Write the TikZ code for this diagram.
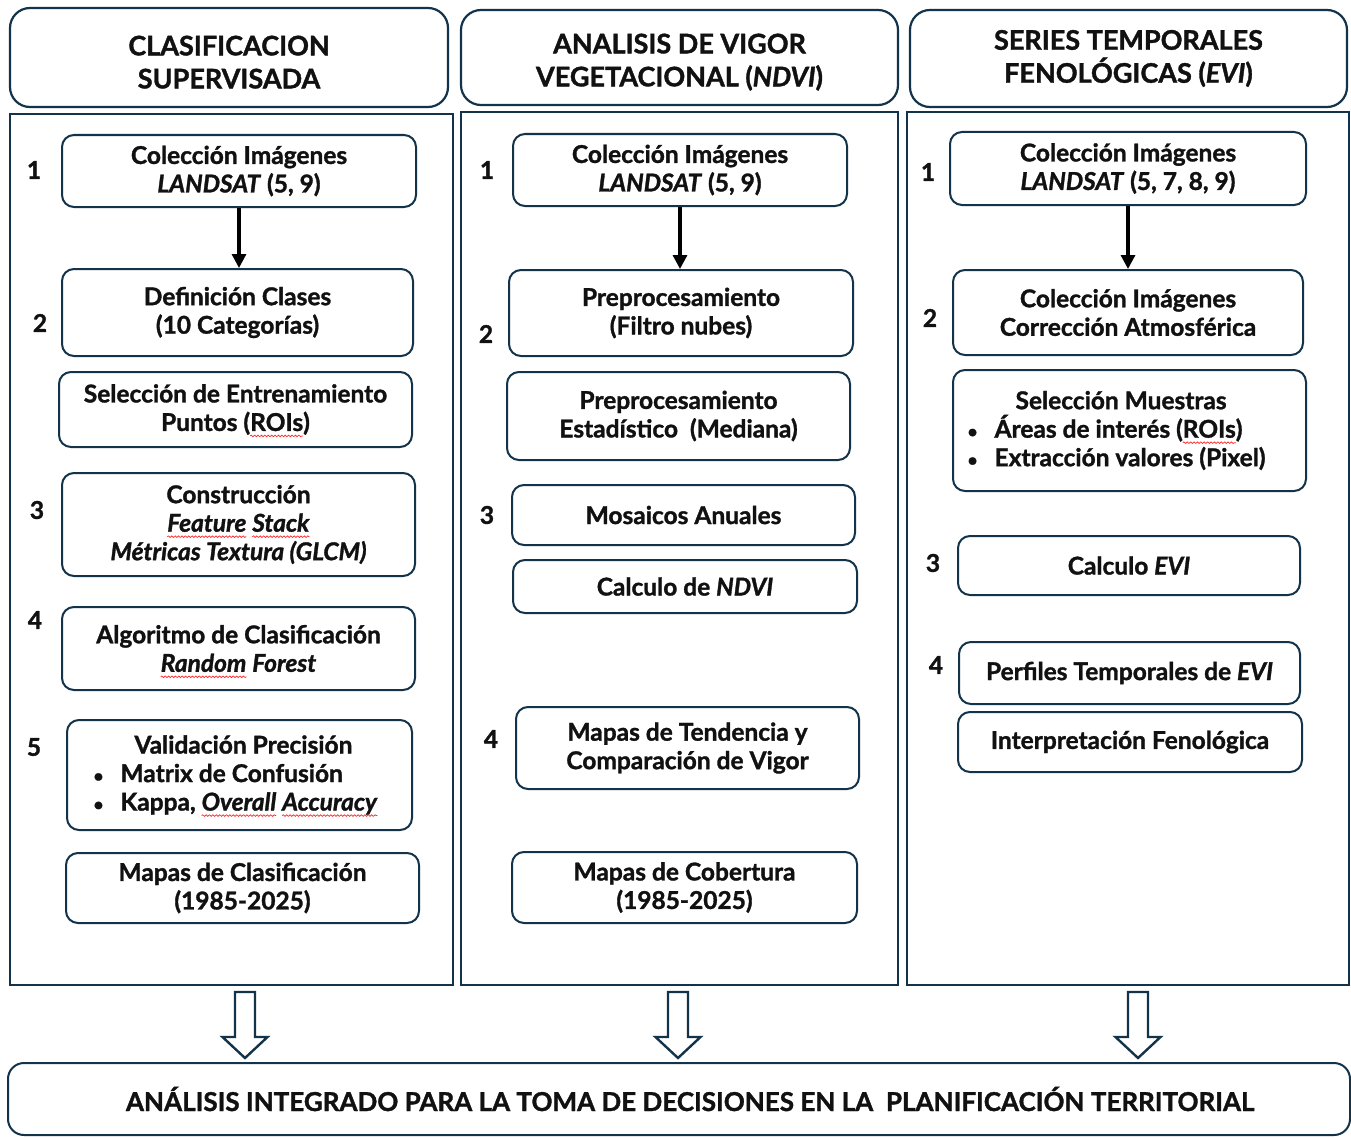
\documentclass[tikz,border=0pt]{standalone}
\usepackage{fontspec}
\setmainfont{Lato}[BoldFeatures={FakeBold=1.3}, BoldItalicFeatures={FakeBold=1.3}]
\usepackage{graphicx}
\usetikzlibrary{arrows.meta,decorations.pathmorphing}
\definecolor{navy}{HTML}{13334A}
\definecolor{ink}{HTML}{111111}
\newsavebox{\spellbox}
\newcommand{\spellwave}[1]{\sbox{\spellbox}{#1}\usebox{\spellbox}\tikz[overlay, baseline=0pt]{\draw[red!85!white, line width=0.7pt, sharp corners, decorate, decoration={snake, amplitude=0.8pt, segment length=3.4pt}] (-\wd\spellbox,-5pt) -- (0pt,-5pt);}}
\newcommand{\blt}{\makebox[27pt][l]{\scalebox{0.7}{\textbullet}}}
\newcommand{\hdstrut}{\rule{0pt}{29pt}}
\newcommand{\hollowdown}[1]{\draw[fatarrow] (#1) ++(-10,0) -- ++(0,45) -- ++(-12.5,0) -- ++(22.5,21) -- ++(22.5,-21) -- ++(-12.5,0) -- ++(0,-45) -- cycle;}

\begin{document}
\begin{tikzpicture}[x=1pt,y=-1pt,
  font=\fontsize{24.5}{28.5}\selectfont\bfseries, text=ink,
  headbox/.style={draw=navy, line width=2.2pt, rounded corners=20pt, align=center, inner sep=0pt, font=\fontsize{27}{33}\selectfont\bfseries},
  colframe/.style={draw=navy, line width=2.4pt},
  stepbox/.style={draw=navy, line width=2pt, rounded corners=12pt, align=center, inner sep=0pt, fill=white},
  stepnum/.style={inner sep=0pt},
  flowarrow/.style={line width=3.2pt, black, -{Triangle[width=14pt,length=14pt]}},
  fatarrow/.style={draw=navy, line width=2.4pt, fill=white, line join=miter}]
\useasboundingbox (0,0) rectangle (1351,1137);

% encabezados
\node[headbox, minimum width=438pt, minimum height=99pt] (hdA) at (229,57.5) {\hdstrut CLASIFICACION\\SUPERVISADA};
\node[headbox, minimum width=437pt, minimum height=95pt] (hdB) at (679.5,57.5) {\hdstrut ANALISIS DE VIGOR\\VEGETACIONAL (\textit{NDVI})};
\node[headbox, minimum width=437pt, minimum height=97pt] (hdC) at (1128.5,58.5) {SERIES TEMPORALES\\FENOLÓGICAS (\textit{EVI})};

% marcos
\draw[colframe] (10,114) rectangle (453,985);
\draw[colframe] (461,112) rectangle (898,985);
\draw[colframe] (907,112) rectangle (1349,985);

% columna 1
\node[stepbox, minimum width=354pt, minimum height=72pt] (cA1) at (239,171) {Colección Imágenes\\\textit{LANDSAT} (5, 9)};
\node[stepbox, minimum width=351pt, minimum height=87pt] (cA2) at (237.5,312.5) {Definición Clases\\(10 Categorías)};
\node[stepbox, minimum width=353pt, minimum height=75pt] (cA3) at (235.5,409.5) {Selección de Entrenamiento\\Puntos (\spellwave{ROIs})};
\node[stepbox, minimum width=353pt, minimum height=103pt] (cA4) at (238.5,524.5) {Construcción\\\spellwave{\textit{Feature}} \spellwave{\textit{Stack}}\\\textit{Métricas Textura (GLCM)}};
\node[stepbox, minimum width=353pt, minimum height=83pt] (cA5) at (238.5,648.5) {Algoritmo de Clasificación\\\spellwave{\textit{Random}} \textit{Forest}};
\node[stepbox, minimum width=345pt, minimum height=110pt, align=left] (cA6) at (239.5,775) {\hspace*{41pt}Validación Precisión\\\blt Matrix de Confusión\\\blt Kappa, \spellwave{\textit{Overall}} \spellwave{\textit{Accuracy}}\hspace*{8pt}};
\node[stepbox, minimum width=353pt, minimum height=70pt] (cA7) at (242.5,888) {Mapas de Clasificación\\(1985-2025)};
\node[stepnum] (nA1) at (34,170) {1};
\node[stepnum] (nA2) at (40,323) {2};
\node[stepnum] (nA3) at (37,510) {3};
\node[stepnum] (nA4) at (35,620) {4};
\node[stepnum] (nA5) at (34,747) {5};
\draw[flowarrow] (cA1.south) -- (cA1.south |- cA2.north);

% columna 2
\node[stepbox, minimum width=334pt, minimum height=72pt] (cB1) at (680,170) {Colección Imágenes\\\textit{LANDSAT} (5, 9)};
\node[stepbox, minimum width=344pt, minimum height=86pt] (cB2) at (681,313) {Preprocesamiento\\(Filtro nubes)};
\node[stepbox, minimum width=343pt, minimum height=88pt] (cB3) at (678.5,416) {Preprocesamiento\\Estadístico\ \ (Mediana)};
\node[stepbox, minimum width=343pt, minimum height=60pt] (cB4) at (683.5,515) {Mosaicos Anuales};
\node[stepbox, minimum width=344pt, minimum height=53pt] (cB5) at (685,586.5) {Calculo de \textit{NDVI}};
\node[stepbox, minimum width=343pt, minimum height=82pt] (cB6) at (687.5,748) {Mapas de Tendencia y\\Comparación de Vigor};
\node[stepbox, minimum width=345pt, minimum height=71pt] (cB7) at (684.5,887.5) {Mapas de Cobertura\\(1985-2025)};
\node[stepnum] (nB1) at (487,170) {1};
\node[stepnum] (nB2) at (486,334) {2};
\node[stepnum] (nB3) at (487,515) {3};
\node[stepnum] (nB4) at (491,739) {4};
\draw[flowarrow] (cB1.south) -- (cB1.south |- cB2.north);

% columna 3
\node[stepbox, minimum width=356pt, minimum height=73pt] (cC1) at (1128,168.5) {Colección Imágenes\\\textit{LANDSAT} (5, 7, 8, 9)};
\node[stepbox, minimum width=350pt, minimum height=85pt] (cC2) at (1128,312.5) {Colección Imágenes\\Corrección Atmosférica};
\node[stepbox, minimum width=353pt, minimum height=121pt, align=left] (cC3) at (1129.5,430.5) {\hspace*{48pt}Selección Muestras\\\blt Áreas de interés (\spellwave{ROIs})\\\blt Extracción valores (Pixel)\hspace*{26pt}};
\node[stepbox, minimum width=342pt, minimum height=59pt] (cC4) at (1129,565.5) {Calculo \textit{EVI}};
\node[stepbox, minimum width=341pt, minimum height=62pt] (cC5) at (1129.5,673) {Perfiles Temporales de \textit{EVI}};
\node[stepbox, minimum width=344pt, minimum height=60pt] (cC6) at (1130,742) {Interpretación Fenológica};
\node[stepnum] (nC1) at (928,172) {1};
\node[stepnum] (nC2) at (930,318) {2};
\node[stepnum] (nC3) at (933,563) {3};
\node[stepnum] (nC4) at (936,665) {4};
\draw[flowarrow] (cC1.south) -- (cC1.south |- cC2.north);

% salida comun
\node[stepbox, rounded corners=16pt, minimum width=1342pt, minimum height=72pt] (final) at (679,1099) {\fontsize{26}{30}\selectfont\hspace*{22pt}ANÁLISIS INTEGRADO PARA LA TOMA DE DECISIONES EN LA\ \ PLANIFICACIÓN TERRITORIAL};
\coordinate (arA) at (245,992);
\coordinate (arB) at (678,992);
\coordinate (arC) at (1138,992);
\hollowdown{arA}
\hollowdown{arB}
\hollowdown{arC}
\end{tikzpicture}
\end{document}
